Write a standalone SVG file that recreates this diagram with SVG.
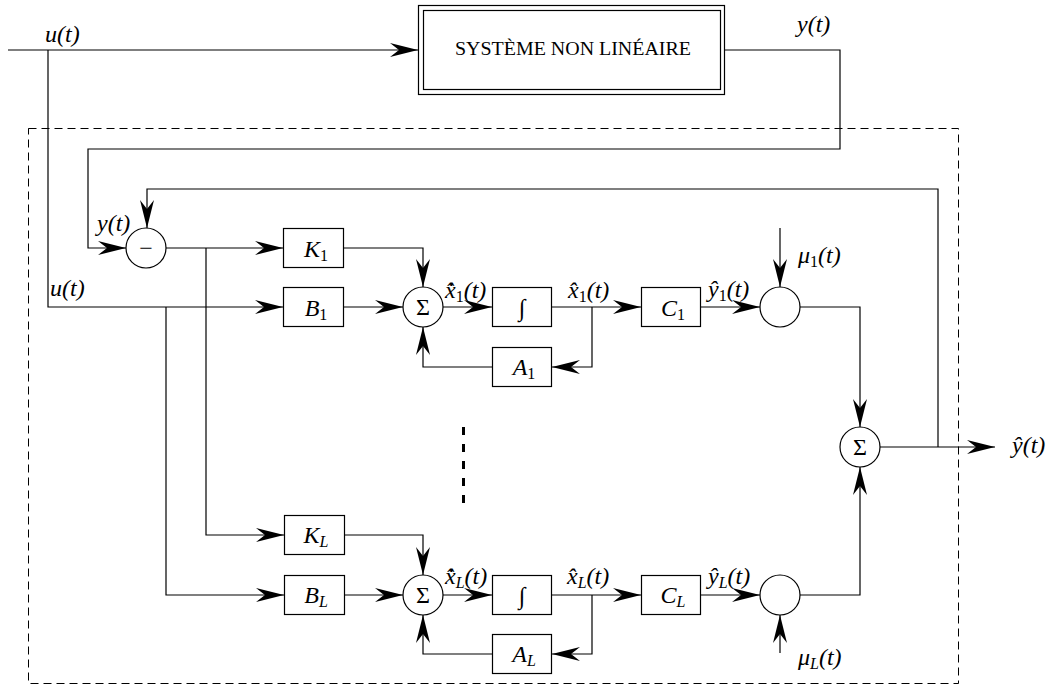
<svg xmlns="http://www.w3.org/2000/svg" width="1048" height="689" viewBox="0 0 1048 689">
<style>
.box{fill:#fff;stroke:#000;stroke-width:1.2}
.c{fill:#fff;stroke:#000;stroke-width:1.2}
.wa{fill:none;stroke:#000;stroke-width:1.2;marker-end:url(#ar)}
.m{font-family:'Liberation Serif','DejaVu Serif',serif;font-style:italic;font-size:24px;fill:#000}
.up{font-family:'Liberation Serif','DejaVu Serif',serif;font-size:24px;fill:#000}
.sub{font-style:normal;font-size:16px}
.subi{font-style:italic;font-size:16px}
</style>
<defs>
<marker id="ar" viewBox="-29 -8 30 16" markerWidth="30" markerHeight="16" refX="0" refY="0" orient="auto" markerUnits="userSpaceOnUse">
<path d="M0,0 L-28,-7 L-19,0 L-28,7 Z" fill="#000"/>
</marker>
</defs>
<rect x="28.5" y="128.5" width="930" height="555" fill="none" stroke="#000" stroke-width="1" stroke-dasharray="8 5"/>
<g id="connectors">
<path class="wa" d="M8,50 H418"/>
<path class="wa" d="M48,50 V307 H283"/>
<path class="wa" d="M166,307 V595 H284"/>
<path class="wa" d="M725,50 H840 V149 H88 V248 H126"/>
<path class="wa" d="M938,447 V189 H147 V228"/>
<path class="wa" d="M166,248 H283"/>
<path class="wa" d="M206,248 V535 H284"/>
<path class="wa" d="M344,248 H423 V287"/>
<path class="wa" d="M344,307 H403"/>
<path class="wa" d="M443,307 H492"/>
<path class="wa" d="M552,307 H641"/>
<path class="wa" d="M592,307 V367 H552"/>
<path class="wa" d="M492,367 H423 V327"/>
<path class="wa" d="M701,307 H760"/>
<path class="wa" d="M780,228 V287"/>
<path class="wa" d="M800,307 H860 V427"/>
<path class="wa" d="M880,447 H995"/>
<path class="wa" d="M344,535 H423 V575"/>
<path class="wa" d="M344,595 H403"/>
<path class="wa" d="M443,595 H492"/>
<path class="wa" d="M552,595 H641"/>
<path class="wa" d="M592,595 V654 H552"/>
<path class="wa" d="M492,654 H423 V615"/>
<path class="wa" d="M701,595 H760"/>
<path class="wa" d="M780,653 V615"/>
<path class="wa" d="M800,595 H860 V467"/>
<line x1="463.5" y1="427" x2="463.5" y2="503" stroke="#000" stroke-width="3" stroke-dasharray="8 9"/>
</g>
<g id="system">
<rect class="box" x="418.5" y="5.5" width="306" height="89"/>
<rect class="box" x="423.5" y="10.5" width="297" height="79"/>
<text x="573" y="55" text-anchor="middle" font-family="'Liberation Serif','DejaVu Serif',serif" font-size="19" textLength="236" lengthAdjust="spacingAndGlyphs">SYSTÈME NON LINÉAIRE</text>
</g>
<g id="minus"><circle class="c" cx="146" cy="248" r="20"/><text class="up" x="146" y="256" text-anchor="middle">−</text></g>
<g id="K1"><rect class="box" x="283.5" y="228.5" width="60" height="39"/><text class="m" x="316" y="257" text-anchor="middle">K<tspan class="sub" dy="4">1</tspan></text></g>
<g id="B1"><rect class="box" x="283.5" y="287.5" width="60" height="39"/><text class="m" x="316" y="316" text-anchor="middle">B<tspan class="sub" dy="4">1</tspan></text></g>
<g id="sum1"><circle class="c" cx="423" cy="307" r="20"/><text class="up" x="423" y="315" text-anchor="middle">Σ</text></g>
<g id="int1"><rect class="box" x="492.5" y="287.5" width="59" height="39"/><text class="m" x="522" y="316" text-anchor="middle">∫</text></g>
<g id="A1"><rect class="box" x="492.5" y="347.5" width="59" height="39"/><text class="m" x="524" y="375" text-anchor="middle">A<tspan class="sub" dy="4">1</tspan></text></g>
<g id="C1"><rect class="box" x="641.5" y="287.5" width="59" height="39"/><text class="m" x="673" y="316" text-anchor="middle">C<tspan class="sub" dy="4">1</tspan></text></g>
<g id="add1"><circle class="c" cx="780" cy="307" r="20"/></g>
<g id="sumOut"><circle class="c" cx="860" cy="447" r="20"/><text class="up" x="860" y="455" text-anchor="middle">Σ</text></g>
<g id="KL"><rect class="box" x="284.5" y="515.5" width="60" height="39"/><text class="m" x="316" y="543" text-anchor="middle">K<tspan class="subi" dy="4">L</tspan></text></g>
<g id="BL"><rect class="box" x="284.5" y="575.5" width="60" height="39"/><text class="m" x="316" y="603" text-anchor="middle">B<tspan class="subi" dy="4">L</tspan></text></g>
<g id="sumL"><circle class="c" cx="423" cy="595" r="20"/><text class="up" x="423" y="603" text-anchor="middle">Σ</text></g>
<g id="intL"><rect class="box" x="492.5" y="575.5" width="59" height="39"/><text class="m" x="522" y="604" text-anchor="middle">∫</text></g>
<g id="AL"><rect class="box" x="492.5" y="634.5" width="59" height="39"/><text class="m" x="524" y="662" text-anchor="middle">A<tspan class="subi" dy="4">L</tspan></text></g>
<g id="CL"><rect class="box" x="641.5" y="575.5" width="59" height="39"/><text class="m" x="673" y="603" text-anchor="middle">C<tspan class="subi" dy="4">L</tspan></text></g>
<g id="addL"><circle class="c" cx="780" cy="595" r="20"/></g>
<g id="labels">
<text class="m" x="45" y="42">u(t)</text>
<text class="m" x="797" y="32">y(t)</text>
<text class="m" x="97" y="231">y(t)</text>
<text class="m" x="50" y="296">u(t)</text>
<text class="m" x="445" y="298">x̂̇<tspan class="sub" dy="4">1</tspan><tspan dy="-4">(t)</tspan></text>
<text class="m" x="568" y="298">x̂<tspan class="sub" dy="4">1</tspan><tspan dy="-4">(t)</tspan></text>
<text class="m" x="708" y="297">ŷ<tspan class="sub" dy="4">1</tspan><tspan dy="-4">(t)</tspan></text>
<text class="m" x="798" y="263">μ<tspan class="sub" dy="4">1</tspan><tspan dy="-4">(t)</tspan></text>
<text class="m" x="1012" y="453">ŷ(t)</text>
<text class="m" x="445" y="584">x̂̇<tspan class="subi" dy="4">L</tspan><tspan dy="-4">(t)</tspan></text>
<text class="m" x="567" y="584">x̂<tspan class="subi" dy="4">L</tspan><tspan dy="-4">(t)</tspan></text>
<text class="m" x="708" y="584">ŷ<tspan class="subi" dy="4">L</tspan><tspan dy="-4">(t)</tspan></text>
<text class="m" x="798" y="665">μ<tspan class="subi" dy="4">L</tspan><tspan dy="-4">(t)</tspan></text>
</g>
</svg>
